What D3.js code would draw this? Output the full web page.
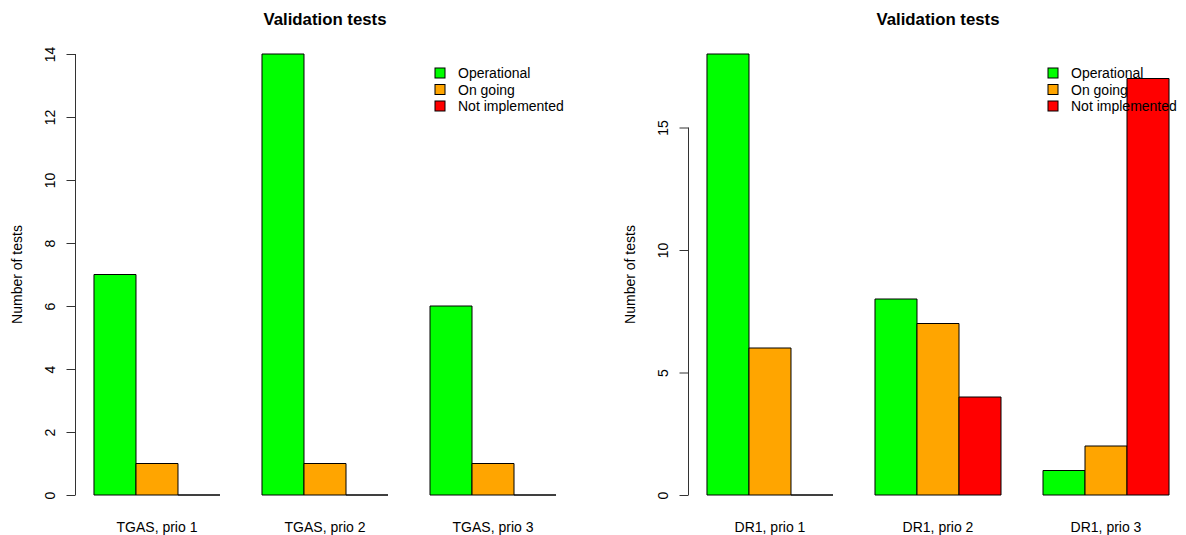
<!DOCTYPE html>
<html>
<head>
<meta charset="utf-8">
<script src="https://cdn.jsdelivr.net/npm/d3@7"></script>
<style>
    body { margin: 0; background: #fff; overflow: hidden; }
    svg { display: block; }
    text { font-family: "Liberation Sans", Arial, sans-serif; }
</style>
</head>
<body>
<svg id="chart"></svg>
<script>
// data
const statusNames = ['Operational', 'On going', 'Not implemented']
const statusColors = ['#00ff00', '#ffa500', '#ff0000']

const tgasGroups = ['TGAS, prio 1', 'TGAS, prio 2', 'TGAS, prio 3']
const tgasValues = [[7, 1, 0], [14, 1, 0], [6, 1, 0]]
const tgasTicks = [0, 2, 4, 6, 8, 10, 12, 14]

const dr1Groups = ['DR1, prio 1', 'DR1, prio 2', 'DR1, prio 3']
const dr1Values = [[18, 6, 0], [8, 7, 4], [1, 2, 17]]
const dr1Ticks = [0, 5, 10, 15]

const size = {width: 1186, height: 535}
const svg = d3.select('#chart')
    .attr('width', size.width)
    .attr('height', size.height)

/**
 * one R-style grouped barplot
 */
const drawPanel = function (opts) {
    const {left, right, groups, values, ticks, yMax} = opts
    const top = 54, bottom = 495
    const nBars = statusNames.length

    // bar units: first group starts at 1, one empty unit between groups
    const xScale = d3.scaleLinear()
        .domain([0.56, groups.length * (nBars + 1) + 0.44])
        .range([left, right])
    const yScale = d3.scaleLinear()
        .domain([0, yMax])
        .range([bottom, top])

    const g = svg.append('g')

    // title
    g.append('text')
        .attr('x', (left + right) / 2)
        .attr('y', 25)
        .attr('text-anchor', 'middle')
        .attr('font-size', '16.8px')
        .attr('font-weight', 'bold')
        .text('Validation tests')

    // bars (paths, so a zero-height bar still shows its outline)
    const bars = []
    values.forEach((vals, gi) => {
        vals.forEach((v, j) => {
            bars.push({unit: 1 + gi * (nBars + 1) + j, value: v, status: j})
        })
    })
    g.selectAll('path.bar')
        .data(bars)
        .join('path')
        .attr('class', 'bar')
        .attr('d', d => {
            const x0 = xScale(d.unit), x1 = xScale(d.unit + 1)
            const y0 = yScale(0), y1 = yScale(d.value)
            return `M${x0},${y0}V${y1}H${x1}V${y0}Z`
        })
        .attr('fill', d => statusColors[d.status])
        .attr('stroke', '#000')
        .attr('stroke-width', 1)

    // group labels
    g.selectAll('text.grp')
        .data(groups)
        .join('text')
        .attr('class', 'grp')
        .attr('x', (d, i) => xScale(1 + i * (nBars + 1) + nBars / 2))
        .attr('y', 532)
        .attr('text-anchor', 'middle')
        .attr('font-size', '14px')
        .text(d => d)

    // y axis
    const yAxis = d3.axisLeft(yScale)
        .tickValues(ticks)
        .tickSize(9)
        .tickSizeOuter(0)
        .tickFormat(d3.format('d'))
    const yAxisG = g.append('g')
        .attr('transform', `translate(${left},0)`)
        .call(yAxis)
    yAxisG.select('.domain')
        .attr('d', `M0,${yScale(ticks[0])}V${yScale(ticks[ticks.length - 1])}`)
        .attr('stroke', '#333')
    yAxisG.selectAll('.tick line').attr('stroke', '#333')
    yAxisG.selectAll('.tick text')
        .attr('font-size', '14px')
        .attr('font-family', '"Liberation Sans", Arial, sans-serif')
        .attr('fill', '#000')
        .attr('text-anchor', 'middle')
        .attr('x', null)
        .attr('dy', null)
        .attr('transform', 'translate(-26,0) rotate(-90) translate(0,5)')

    // y label
    g.append('text')
        .attr('transform', `translate(${left - 54},${(top + bottom) / 2}) rotate(-90)`)
        .attr('text-anchor', 'middle')
        .attr('font-size', '14px')
        .text('Number of tests')

    // legend (no box, top right)
    const legend = g.append('g')
        .attr('transform', `translate(${right - 116.5},0)`)
    const rows = legend.selectAll('g')
        .data(statusNames)
        .join('g')
        .attr('transform', (d, i) => `translate(0,${73 + i * 16.5})`)
    rows.append('rect')
        .attr('x', -23)
        .attr('y', -5)
        .attr('width', 10)
        .attr('height', 10)
        .attr('fill', (d, i) => statusColors[i])
        .attr('stroke', '#000')
    rows.append('text')
        .attr('x', 0)
        .attr('y', 5)
        .attr('font-size', '14px')
        .text(d => d)
}

drawPanel({left: 75.5, right: 574.5, groups: tgasGroups, values: tgasValues, ticks: tgasTicks, yMax: 14})
drawPanel({left: 688.5, right: 1187.5, groups: dr1Groups, values: dr1Values, ticks: dr1Ticks, yMax: 18})
</script>
</body>
</html>
